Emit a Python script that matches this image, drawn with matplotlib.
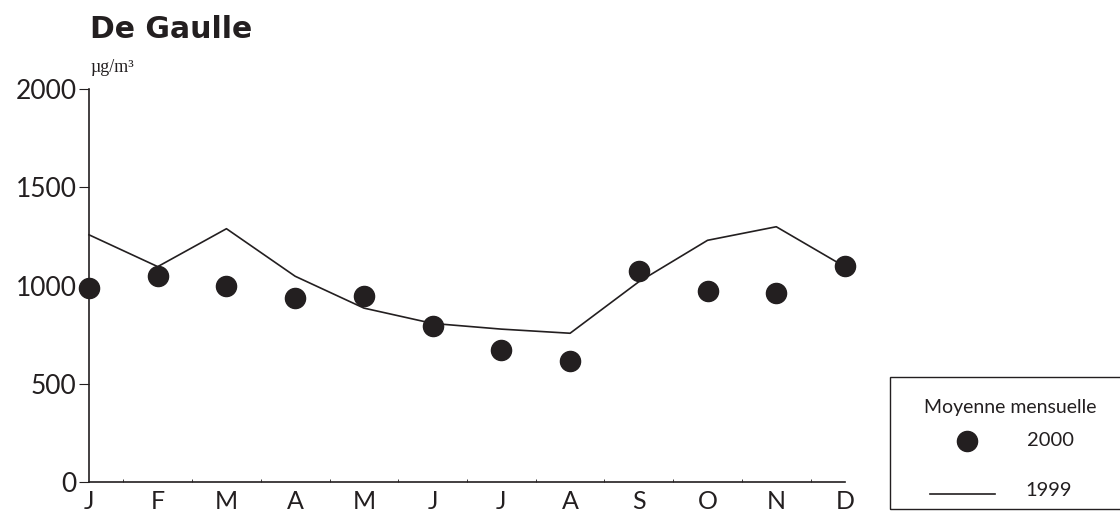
import matplotlib
matplotlib.use("Agg")
import matplotlib.pyplot as plt
from matplotlib.ticker import FixedLocator
from matplotlib.lines import Line2D
from matplotlib.patches import Rectangle

months = ["J", "F", "M", "A", "M", "J", "J", "A", "S", "O", "N", "D"]
values_2000 = [989, 1050, 997, 936, 945, 795, 672, 616, 1074, 972, 963, 1099]
values_1999 = [1258, 1096, 1289, 1047, 885, 807, 778, 757, 1019, 1230, 1299, 1095]
y_ticks = [0, 500, 1000, 1500, 2000]

ink = "#231f20"
plt.rcParams["font.family"] = ["Lato", "DejaVu Sans"]

W, H = 1120, 513
fig = plt.figure(figsize=(W / 100, H / 100), dpi=100)
ax = fig.add_axes([89 / W, 31 / H, 756 / W, 393 / H])


def fx(px):
    return px / W


def fy(py):
    return 1 - py / H


x = list(range(len(months)))
line_style = dict(color=ink, lw=1.2)
dot_style = dict(marker="o", ls="none", color=ink, ms=14.5, mec=ink)

ax.plot(x, values_1999, clip_on=False, **line_style)
ax.plot(x, values_2000, clip_on=False, zorder=3, **dot_style)

ax.set_xlim(0, 11)
ax.set_ylim(0, 2000)
ax.set_xticks(x)
ax.set_xticklabels(months)
ax.xaxis.set_minor_locator(FixedLocator([i + 0.5 for i in range(11)]))
ax.tick_params(axis="x", which="major", length=0, pad=6, labelsize=18, colors=ink)
ax.tick_params(axis="x", which="minor", length=2, direction="in", color=ink, width=0.6)
ax.set_yticks(y_ticks)
ax.tick_params(axis="y", which="major", length=7, width=0.8, pad=2, labelsize=19,
               colors=ink)
for s in ("top", "right"):
    ax.spines[s].set_visible(False)
for s in ("left", "bottom"):
    ax.spines[s].set_color(ink)
    ax.spines[s].set_linewidth(1.2)

# Title and unit
fig.text(fx(90), fy(38), "De Gaulle", fontsize=21.5, fontweight="bold",
         color=ink, ha="left", va="baseline", family="DejaVu Sans")
fig.text(fx(90), fy(72), "µg/m³", fontsize=13, color=ink, ha="left",
         va="baseline", family="Liberation Serif")

# Legend box (runs past the right edge of the figure)
fig.add_artist(Rectangle((fx(890), fy(509)), fx(260), (509 - 377) / H,
                         transform=fig.transFigure, fill=False,
                         edgecolor=ink, lw=1.0))
fig.text(fx(1010), fy(407), "Moyenne mensuelle", fontsize=14, color=ink,
         ha="center", va="center")
fig.add_artist(Line2D([fx(967)], [fy(441)], transform=fig.transFigure, **dot_style))
fig.text(fx(1050), fy(441), "2000", fontsize=14.5, color=ink, ha="center",
         va="center")
fig.add_artist(Line2D([fx(930), fx(995)], [fy(494), fy(494)],
                      transform=fig.transFigure, **line_style))
fig.text(fx(1049), fy(491), "1999", fontsize=14.5, color=ink, ha="center",
         va="center")

fig.savefig("out.png", dpi=100)
